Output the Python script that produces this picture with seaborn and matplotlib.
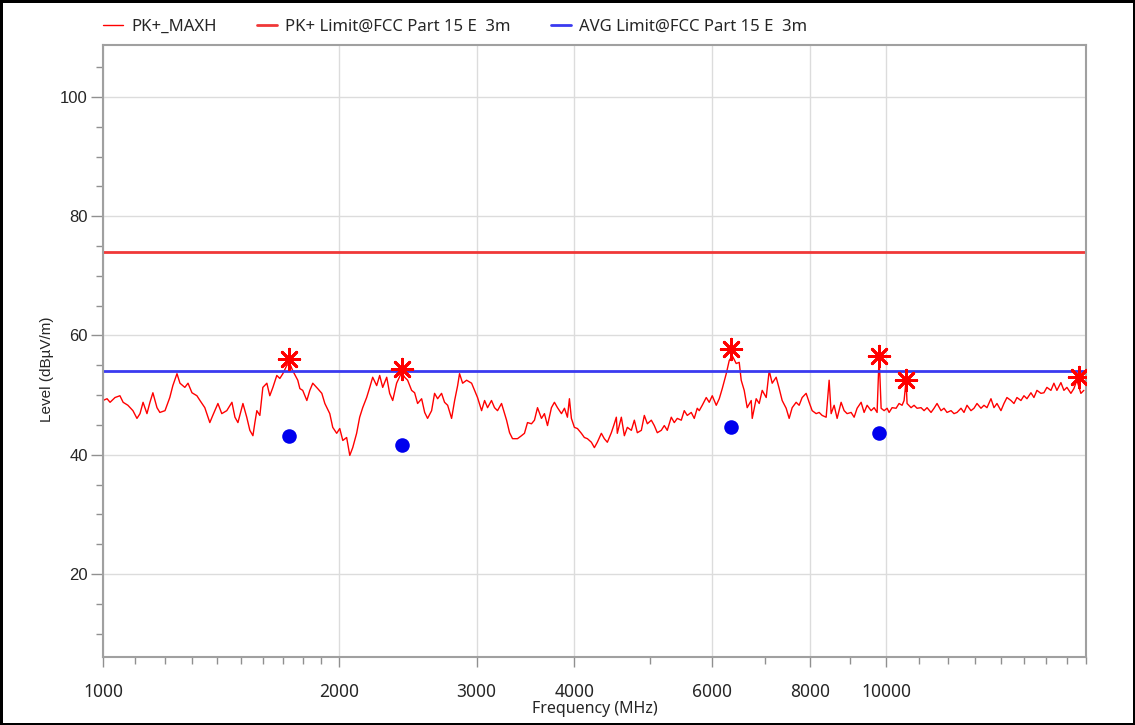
import matplotlib
matplotlib.use("Agg")
import matplotlib.pyplot as plt
import seaborn as sns
import pandas as pd

# --- data ---
# PK+_MAXH trace (MHz, dBuV/m)
trace_freq = [
    1000, 1012, 1021, 1036, 1051, 1061, 1076, 1092, 1105, 1115, 1125, 1138, 1148, 1158, 1172, 1182,
    1200, 1217, 1228, 1243, 1254, 1272, 1284, 1299, 1318, 1330, 1349, 1369, 1381, 1402, 1418, 1439,
    1461, 1474, 1487, 1509, 1526, 1540, 1554, 1563, 1572, 1586, 1600, 1619, 1633, 1648, 1667, 1682,
    1697, 1717, 1732, 1747, 1773,
    1784, 1799, 1821, 1837, 1853, 1880, 1903, 1920, 1948, 1965, 1988, 2006, 2024, 2047, 2066, 2084,
    2108, 2127, 2146, 2171, 2191, 2210, 2236, 2256, 2276, 2303, 2323, 2344, 2371, 2406, 2428, 2449,
    2478, 2500, 2522, 2552, 2575, 2597, 2628, 2651, 2675, 2706, 2730, 2755, 2787, 2812, 2837, 2853,
    2879, 2913, 2956, 2982, 3008, 3044, 3071, 3098, 3134, 3162, 3190,
    3228, 3276, 3305, 3334, 3383, 3423, 3453, 3484, 3525, 3556, 3588, 3630, 3662, 3695, 3738, 3771,
    3805, 3850, 3884, 3918, 3941, 3964, 3999, 4035, 4082, 4118, 4155, 4204, 4241, 4278, 4329, 4367,
    4406, 4458, 4497, 4524, 4537, 4591, 4632, 4673, 4728, 4770, 4812, 4869, 4912, 4956, 5014, 5058,
    5103, 5163, 5209, 5255, 5317, 5364, 5412, 5476, 5524, 5573, 5639, 5689, 5739,
    5773, 5824, 5893, 5945, 5998, 6069, 6123, 6177, 6250, 6305, 6361, 6436, 6493, 6531, 6589, 6647,
    6726, 6746, 6825, 6886, 6947, 7029, 7091, 7154, 7238, 7303, 7367, 7454, 7520, 7587, 7676, 7744,
    7813, 7905, 7975, 8046, 8141, 8213, 8286, 8384, 8458, 8508, 8583, 8659, 8761, 8839, 8917, 9023,
    9103, 9183, 9292, 9374, 9457, 9569, 9654, 9739, 9797, 9855, 9942, 10030,
    10089, 10178, 10298, 10389, 10481, 10543, 10605, 10636, 10762, 10857, 10953, 11083, 11181, 11280,
    11413, 11514, 11616, 11753, 11857, 11962, 12103, 12210, 12318, 12464, 12574, 12686, 12835, 12949,
    13064, 13218, 13335, 13453, 13612, 13733, 13854, 14018, 14142, 14267, 14436, 14564, 14693, 14866,
    14998, 15131, 15310, 15445, 15582, 15766, 15905, 16046, 16236, 16379, 16524, 16720, 16868, 17017,
    17218, 17370, 17524, 17731, 17888,
]
trace_level = [
    49.1, 49.4, 48.8, 49.6, 49.9, 48.8, 48.3, 47.4, 46.1, 46.9, 48.8, 46.9, 48.8, 50.4, 47.9, 47.1,
    47.4, 49.6, 51.6, 53.6, 52.0, 51.3, 52.0, 50.4, 49.9, 49.1, 47.9, 45.4, 46.6, 48.6, 46.9, 47.4,
    48.8, 46.3, 45.4, 48.6, 46.3, 44.1, 43.2, 45.4, 47.4, 46.6, 51.3, 52.0, 49.9, 51.3, 53.3, 52.8,
    53.6, 55.0, 55.3, 54.1, 52.5,
    51.1, 50.8, 49.1, 50.8, 52.0, 51.1, 50.3, 48.6, 46.9, 44.6, 43.6, 44.4, 42.4, 42.9, 39.9, 41.2,
    43.6, 46.3, 47.9, 49.6, 51.3, 53.0, 51.6, 53.3, 51.3, 53.0, 50.3, 49.1, 52.0, 53.8, 53.0, 52.5,
    50.8, 50.4, 48.6, 49.4, 47.1, 46.1, 47.4, 50.3, 49.4, 50.3, 48.8, 48.3, 46.1, 49.1, 51.6, 53.6,
    52.0, 52.5, 52.0, 50.8, 49.6, 47.4, 49.1, 47.9, 49.1, 47.9, 47.4,
    48.6, 45.8, 43.7, 42.7, 42.7, 43.2, 43.6, 45.4, 45.2, 45.8, 47.9, 46.1, 46.9, 44.9, 47.9, 48.8,
    47.9, 46.9, 47.8, 46.3, 49.4, 46.1, 44.6, 44.4, 43.6, 42.9, 42.7, 42.1, 41.2, 42.1, 43.6, 42.7,
    42.1, 43.7, 45.2, 46.3, 43.6, 46.3, 43.2, 44.6, 44.1, 45.8, 43.7, 44.1, 46.6, 45.2, 45.8, 44.9,
    43.7, 44.1, 44.9, 44.1, 46.3, 45.4, 46.1, 45.8, 47.4, 46.6, 47.1, 46.1, 47.8,
    47.4, 48.3, 49.6, 48.8, 49.9, 48.3, 49.4, 51.1, 53.6, 55.8, 56.6, 55.3, 55.5, 52.5, 50.8, 47.9,
    49.1, 46.1, 49.4, 48.6, 50.8, 49.6, 54.1, 52.0, 53.0, 51.1, 49.1, 47.8, 46.1, 47.9, 48.8, 48.3,
    49.6, 50.3, 48.8, 47.4, 46.9, 47.1, 46.6, 46.3, 52.5, 46.9, 48.3, 46.1, 48.8, 47.4, 46.9, 47.1,
    46.3, 47.8, 48.8, 47.1, 48.3, 47.4, 47.9, 47.1, 56.6, 47.8, 47.4, 47.8,
    47.1, 47.9, 47.8, 48.6, 48.3, 49.1, 52.5, 48.6, 47.9, 48.3, 47.8, 47.9, 47.4, 47.9,
    47.1, 47.8, 48.6, 47.4, 47.8, 47.1, 47.4, 46.9, 47.1, 47.8, 47.1, 48.3, 47.4, 47.8,
    48.6, 47.8, 48.3, 47.9, 49.4, 47.9, 48.6, 47.4, 48.6, 49.6, 49.1, 48.6, 49.6, 49.1,
    49.9, 49.4, 50.4, 49.6, 50.8, 50.3, 50.4, 51.3, 50.8, 52.0, 50.8, 52.1, 50.8, 51.3,
    50.3, 51.1, 52.5, 50.3, 50.8,
]

pk_limit = 74.0
avg_limit = 54.0

# peak markers (asterisks) and average readings (dots)
peak_freq = [1726, 2407, 6343, 9797, 10605, 17630]
peak_level = [56.0, 54.3, 57.8, 56.5, 52.5, 53.0]
avg_freq = [1726, 2407, 6343, 9797]
avg_level = [43.1, 41.6, 44.7, 43.6]

x_major = [1000, 2000, 3000, 4000, 6000, 8000, 10000]
x_minor = [1100, 1200, 1300, 1400, 1500, 1600, 1700, 1800, 1900, 5000, 7000, 9000,
           11000, 12000, 13000, 14000, 15000, 16000, 17000, 18000]

sns.set_theme(style="white")
plt.rcParams['font.family'] = ['Noto Sans', 'DejaVu Sans']

fig = plt.figure(figsize=(11.35, 7.25), dpi=100)
fig.patch.set_edgecolor("black")
fig.patch.set_linewidth(3.5)
ax = fig.add_axes([103/1135, 68/725, 983/1135, 612/725])

df_trace = pd.DataFrame({"freq": trace_freq, "level": trace_level})
sns.lineplot(data=df_trace, x="freq", y="level", ax=ax, color="#ff0000", lw=1.15,
             sort=False, estimator=None, label="PK+_MAXH")
ax.axhline(pk_limit, color="#f03838", lw=2.0, label="PK+ Limit@FCC Part 15 E  3m")
ax.axhline(avg_limit, color="#3a3af0", lw=2.0, label="AVG Limit@FCC Part 15 E  3m")

sns.scatterplot(x=peak_freq, y=peak_level, ax=ax, marker=(8, 2, 0), s=220,
                color="#ff0000", linewidth=2.0, edgecolor="#ff0000", zorder=5, legend=False)
sns.scatterplot(x=avg_freq, y=avg_level, ax=ax, marker="o", s=110,
                color="#0000ee", linewidth=0, zorder=5, legend=False)

ax.set_xscale("log")
ax.set_xlim(1000, 17950)
ax.set_ylim(6.1, 108.7)
ax.set_xticks(x_major)
ax.set_xticklabels([str(v) for v in x_major])
ax.set_xticks(x_minor, minor=True)
ax.set_xticklabels([], minor=True)
ax.set_yticks([20, 40, 60, 80, 100])
ax.set_yticks([10, 15, 25, 30, 35, 45, 50, 55, 65, 70, 75, 85, 90, 95, 105], minor=True)

ax.grid(True, which="major", color="#dcdcdc", lw=1.0)
for s in ax.spines.values():
    s.set_color("#a0a0a0")
    s.set_linewidth(1.5)

ax.tick_params(axis="x", which="major", direction="out", length=7, width=1, color="#909090",
               labelsize=12.5, pad=12, bottom=True)
ax.tick_params(axis="x", which="minor", direction="out", length=5, width=1, color="#909090", bottom=True)
ax.tick_params(axis="y", which="major", direction="out", length=9, width=1, color="#909090",
               labelsize=12, pad=2, left=True)
ax.tick_params(axis="y", which="minor", direction="out", length=5, width=1, color="#909090", left=True)
for lab in ax.get_yticklabels():
    lab.set_fontfamily("Liberation Sans")

ax.set_xlabel("Frequency (MHz)", fontsize=11.5, labelpad=0)
ax.set_ylabel("Level (dBµV/m)", fontsize=11, fontfamily="Liberation Sans")
ax.yaxis.set_label_coords(-0.05, 0.47)

handles, labels = ax.get_legend_handles_labels()
handles[0].set_linewidth(1.0)
ax.legend(handles, labels, loc="center left", bbox_to_anchor=(0.0, 1.03), ncol=3,
          frameon=False, fontsize=12, handlelength=1.2, handletextpad=0.5,
          columnspacing=2.4, borderaxespad=0, borderpad=0)

fig.savefig("out.png", dpi=100)
